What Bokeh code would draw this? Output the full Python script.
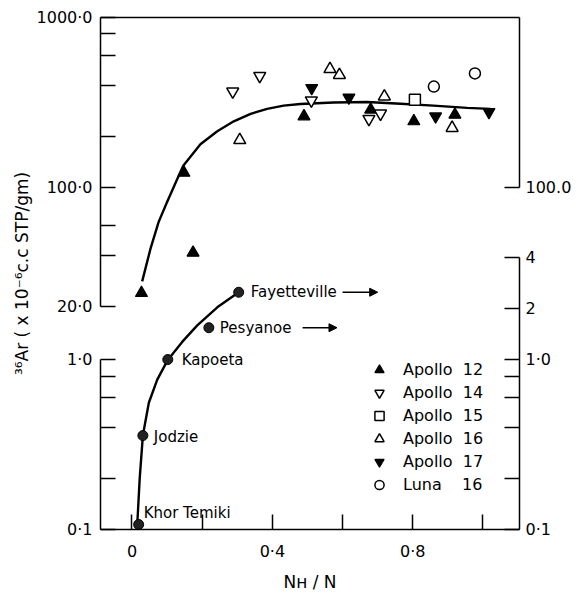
import math
from bokeh.plotting import figure
from bokeh.models import (Range1d, LogScale, LogAxis, LinearAxis, FixedTicker,
                          CustomJSTickFormatter, ColumnDataSource, Legend, LegendItem,
                          Arrow, NormalHead)
from bokeh.core.properties import value
from bokeh.embed import file_html
from bokeh.resources import INLINE

# ---------------- data ----------------
# Lunar samples: x = N_H/N, y = 36Ar (1e-6 cc STP/g), upper scale
apollo12_x = [0.027, 0.148, 0.174, 0.49, 0.68, 0.803, 0.92]
apollo12_y = [23.9, 122, 41.3, 262, 287, 245, 268]
apollo14_x = [0.287, 0.364, 0.511, 0.675, 0.708]
apollo14_y = [367, 453, 325, 253, 272]
apollo15_x = [0.806]
apollo15_y = [328]
apollo16_x = [0.307, 0.564, 0.591, 0.719, 0.912]
apollo16_y = [190, 497, 459, 343, 224]
apollo17_x = [0.512, 0.618, 0.865, 1.017]
apollo17_y = [385, 338, 262, 278]
luna16_x = [0.86, 0.977]
luna16_y = [392, 469]

lunar_curve_x = [0.029, 0.053, 0.076, 0.100, 0.129, 0.146, 0.195, 0.243, 0.290,
                 0.338, 0.385, 0.432, 0.480, 0.574, 0.670, 0.765, 0.859, 0.955, 1.021]
lunar_curve_y = [28.0, 43.8, 62.7, 82, 112, 134, 179.5, 214, 245,
                 271, 290, 303, 310, 316, 318, 311, 303, 294, 290]

# Meteorites, lower scale
meteorites = ["Khor Temiki", "Jodzie", "Kapoeta", "Pesyanoe", "Fayetteville"]
met_x = [0.019, 0.031, 0.102, 0.219, 0.304]
met_y = [0.107, 0.357, 1.0, 1.54, 2.49]

met_curve_x = [0.015, 0.022, 0.031, 0.048, 0.072, 0.102, 0.143, 0.186, 0.243, 0.304]
met_curve_y = [0.107, 0.2, 0.357, 0.557, 0.762, 0.995, 1.27, 1.59, 2.03, 2.49]

# tick values and labels
x_ticks = [0, 0.4, 0.8]
x_labels = ["0", "0·4", "0·8"]
x_minor = [0.2, 0.6, 1.0]
top_left_ticks = [20, 100, 1000]
top_left_labels = ["20·0", "100·0", "1000·0"]
top_minor = [40, 60, 200, 400, 600, 800]
top_right_ticks = [100]
top_right_labels = ["100.0"]
met_left_ticks = [0.1, 1.0]
met_left_labels = ["0·1", "1·0"]
met_right_ticks = [0.1, 1.0, 2, 4]
met_right_labels = ["0·1", "1·0", "2", "4"]
met_minor = [0.2, 0.4, 0.6, 0.8]

legend_names = ["Apollo\u00a0\u00a012", "Apollo\u00a0\u00a014", "Apollo\u00a0\u00a015",
                "Apollo\u00a0\u00a016", "Apollo\u00a0\u00a017", "Luna\u00a0\u00a0\u00a0\u00a016"]

# ---------------- layout constants ----------------
SPAN_DEC = 3.013                     # decades spanned by the frame height
TOP_HI = 1000.0
TOP_LO = TOP_HI / 10 ** SPAN_DEC
MET_LO = 0.1
MET_HI = MET_LO * 10 ** SPAN_DEC
K = TOP_LO / MET_LO                  # lower-scale value -> upper-scale coordinate
X_RANGE = (-0.0897, 1.104)
FONT = "DejaVu Sans"

p = figure(width=577, height=594, x_range=Range1d(*X_RANGE),
           y_range=Range1d(TOP_LO, TOP_HI), y_axis_type="log",
           x_axis_location=None, y_axis_location=None,
           output_backend="svg", toolbar_location=None,
           min_border_left=100, min_border_right=58,
           min_border_top=17, min_border_bottom=59)
p.y_scale = LogScale()
p.extra_y_ranges = {"met": Range1d(MET_LO, MET_HI)}
p.extra_y_scales = {"met": LogScale()}
p.outline_line_color = None
p.xgrid.visible = False
p.ygrid.visible = False
p.background_fill_color = "white"
p.border_fill_color = "white"


def fmt(vals, labs):
    return CustomJSTickFormatter(args=dict(vals=list(vals), labs=list(labs)), code="""
        for (let i = 0; i < vals.length; i++) {
            const v = vals[i];
            if (v == 0 ? Math.abs(tick) < 1e-9 : Math.abs(tick / v - 1) < 1e-6) return labs[i];
        }
        return "";
    """)


def style(ax, standoff):
    ax.axis_line_width = 1.5
    ax.axis_line_color = "black"
    ax.major_tick_in = 15
    ax.major_tick_out = 0
    ax.minor_tick_in = 15
    ax.minor_tick_out = 0
    ax.major_tick_line_width = 1.5
    ax.minor_tick_line_width = 1.5
    ax.major_tick_line_color = "black"
    ax.minor_tick_line_color = "black"
    ax.major_label_text_font = FONT
    ax.major_label_text_font_size = "16px"
    ax.major_label_text_color = "black"
    ax.major_label_standoff = standoff
    ax.axis_label_text_color = "black"
    ax.axis_label_text_font = FONT
    ax.axis_label_text_font_style = "normal"


def line_only(ax):
    ax.ticker = FixedTicker(ticks=[], minor_ticks=[])
    ax.major_label_standoff = 0
    ax.major_tick_in = 0
    ax.major_tick_out = 0
    ax.minor_tick_in = 0
    ax.minor_tick_out = 0
    ax.axis_line_width = 1.5
    ax.axis_line_color = "black"
    ax.major_label_text_font_size = "0px"


# left side: line of the lower scale (inner), then labelled axis
l_line = LogAxis(y_range_name="met", bounds=(met_left_ticks[0], met_left_ticks[-1]))
line_only(l_line)
p.add_layout(l_line, "left")

l_ticks = top_left_ticks + [K * v for v in met_left_ticks]
l_labs = top_left_labels + met_left_labels
l_main = LogAxis(bounds=(top_left_ticks[0], TOP_HI))
l_main.ticker = FixedTicker(ticks=l_ticks, minor_ticks=top_minor + [K * v for v in met_minor])
l_main.formatter = fmt(l_ticks, l_labs)
style(l_main, 8)
l_main.axis_label = "³⁶Ar ( x 10⁻⁶c.c STP/gm)"
l_main.axis_label_text_font_size = "17px"
l_main.axis_label_standoff = 2
p.add_layout(l_main, "left")

# right side
r_line = LogAxis(bounds=(top_right_ticks[0], TOP_HI))
line_only(r_line)
p.add_layout(r_line, "right")

r_ticks = met_right_ticks + [v / K for v in top_right_ticks]
r_labs = met_right_labels + top_right_labels
r_main = LogAxis(y_range_name="met", bounds=(met_right_ticks[0], met_right_ticks[-1]))
r_main.ticker = FixedTicker(ticks=r_ticks, minor_ticks=met_minor)
r_main.formatter = fmt(r_ticks, r_labs)
style(r_main, 6)
p.add_layout(r_main, "right")

# bottom and top
xb = LinearAxis()
xb.ticker = FixedTicker(ticks=x_ticks, minor_ticks=x_minor)
xb.formatter = fmt(x_ticks, x_labels)
style(xb, 12)
xb.axis_label = "Nʜ / N"
xb.axis_label_text_font_size = "17px"
xb.axis_label_standoff = 8
p.add_layout(xb, "below")

xt = LinearAxis()
line_only(xt)
p.add_layout(xt, "above")

# ---------------- glyphs ----------------
p.line(lunar_curve_x, lunar_curve_y, line_color="black", line_width=2.4, line_join="round")
p.line(met_curve_x, met_curve_y, line_color="black", line_width=2.4, line_join="round",
       y_range_name="met")

MS = 12
r12 = p.scatter(apollo12_x, apollo12_y, marker="triangle", size=MS,
                fill_color="black", line_color="black", line_width=1.2)
r14 = p.scatter(apollo14_x, apollo14_y, marker="inverted_triangle", size=MS,
                fill_color="white", line_color="black", line_width=1.5)
r15 = p.scatter(apollo15_x, apollo15_y, marker="square", size=MS - 1,
                fill_color="white", line_color="black", line_width=1.5)
r16 = p.scatter(apollo16_x, apollo16_y, marker="triangle", size=MS,
                fill_color="white", line_color="black", line_width=1.5)
r17 = p.scatter(apollo17_x, apollo17_y, marker="inverted_triangle", size=MS,
                fill_color="black", line_color="black", line_width=1.2)
rl = p.scatter(luna16_x, luna16_y, marker="circle", size=MS - 1,
               fill_color="white", line_color="black", line_width=1.5)

met_src = ColumnDataSource(dict(
    x=met_x, y=met_y, name=meteorites,
    dx=[5, 11, 14, 11, 12], dy=[-12, 1, 0, 0, 0]))
p.scatter("x", "y", source=met_src, marker="circle", size=10,
          fill_color="#222222", line_color="black", line_width=1, y_range_name="met")
p.text("x", "y", text="name", source=met_src, x_offset="dx", y_offset="dy",
       y_range_name="met", text_font=value(FONT), text_font_size="15px",
       text_baseline="middle", text_align="left", text_color="black")

# arrows after the Fayetteville and Pesyanoe labels
for i, (x0, x1) in [(4, (0.600, 0.700)), (3, (0.486, 0.584))]:
    p.add_layout(Arrow(end=NormalHead(size=8, fill_color="black", line_color="black"),
                       x_start=x0, y_start=met_y[i], x_end=x1, y_end=met_y[i],
                       y_range_name="met", line_width=1.5, line_color="black"))

legend = Legend(items=[LegendItem(label=n, renderers=[r])
                       for n, r in zip(legend_names, [r12, r14, r15, r16, r17, rl])],
                location=(266, 33))
legend.glyph_width = 26
legend.glyph_height = 23
legend.label_height = 23
legend.spacing = 0
legend.padding = 0
legend.margin = 0
legend.label_standoff = 11
legend.border_line_color = None
legend.background_fill_alpha = 0
legend.label_text_font = FONT
legend.label_text_font_size = "16px"
legend.label_text_color = "black"
p.add_layout(legend)

open("out.html", "w").write(file_html(p, INLINE))
